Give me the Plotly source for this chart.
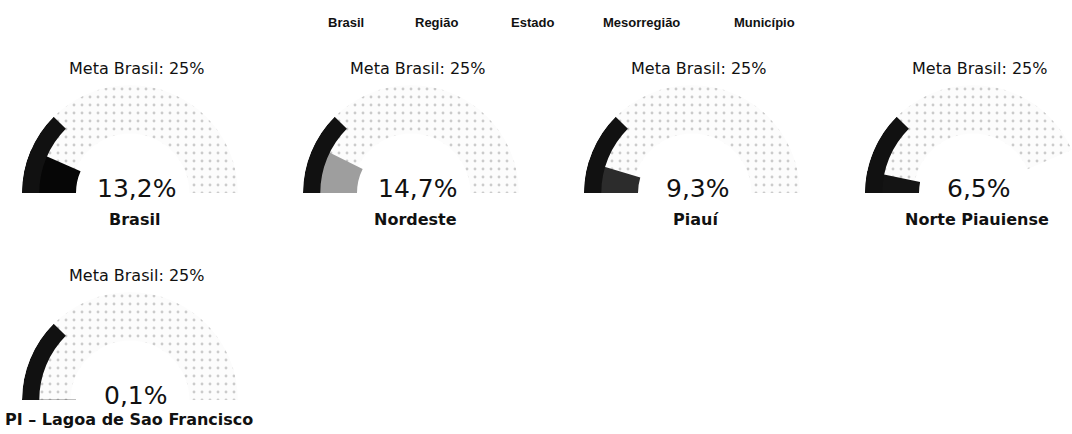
import math
import plotly.graph_objects as go

# ---------------- data ----------------
regions = ["Brasil", "Nordeste", "Piauí", "Norte Piauiense", "PI – Lagoa de Sao Francisco"]
values = [13.2, 14.7, 9.3, 6.5, 0.1]          # percent
meta_brasil = 25                              # percent
scale_max = 100                               # gauge range 0..100 %
menu_items = ["Brasil", "Região", "Estado", "Mesorregião", "Município"]

# ---------------- style / layout ----------------
W, H = 1072, 434
R = 108
centers = [(130, 193), (411, 193), (692, 193), (973, 193), (130, 400)]
label_dy = [26, 26, 26, 26, 19]
label_dx = [4, 4, 4, 4, -1]
wedge_colors = ["#060606", "#9e9e9e", "#2c2c2c", "#141414", "#060606"]
menu_x = [346, 436, 532, 641, 764]
FONT = "DejaVu Sans"


def to_deg(v):
    """gauge scale: 0..scale_max mapped onto the half circle (0..180 deg)"""
    return v / scale_max * 180.0


fig = go.Figure()
annotations = []
polars = {}

for i, (name, v, (cx, cy), col) in enumerate(zip(regions, values, centers, wedge_colors)):
    sub = "polar" if i == 0 else f"polar{i + 1}"
    # background arc (whole range)
    fig.add_trace(go.Barpolar(
        r=[0.45], base=[0.55], theta=[to_deg(scale_max) / 2], width=[to_deg(scale_max)],
        subplot=sub, showlegend=False, hoverinfo="skip",
        marker=dict(color="#fcfcfc", line=dict(width=0),
                    pattern=dict(shape=".", fgcolor="#9a9a9a", bgcolor="#fcfcfc",
                                 size=8, solidity=0.1)),
    ))
    # value wedge
    fig.add_trace(go.Barpolar(
        r=[0.5], base=[0.5], theta=[to_deg(v) / 2], width=[to_deg(v)],
        subplot=sub, showlegend=False, hoverinfo="skip",
        marker=dict(color=col, line=dict(width=0)),
    ))
    # meta band (outer ring 0..meta)
    fig.add_trace(go.Barpolar(
        r=[0.16], base=[0.84], theta=[to_deg(meta_brasil) / 2], width=[to_deg(meta_brasil)],
        subplot=sub, showlegend=False, hoverinfo="skip",
        marker=dict(color="#111111", line=dict(width=0)),
    ))

    right = min(cx + R, W)
    theta_c = math.degrees(math.acos((right - cx) / R))
    polars[sub] = dict(
        domain=dict(x=[(cx - R) / W, right / W], y=[1 - cy / H, 1 - (cy - R) / H]),
        sector=[theta_c, 180], hole=0, bgcolor="rgba(0,0,0,0)",
        radialaxis=dict(visible=False, range=[0, 1]),
        angularaxis=dict(visible=False, rotation=180, direction="clockwise"),
    )

    num_txt = f"{v:.1f}".replace(".", ",") + "%"
    annotations += [
        dict(text=f"Meta Brasil: {meta_brasil}%", x=(cx + 6) / W, y=1 - (cy - 125) / H,
             font=dict(family=FONT, size=16, color="#111")),
        dict(text=num_txt, x=(cx + 6) / W, y=1 - (cy - 5) / H,
             font=dict(family=FONT, size=25, color="#111")),
        dict(text=f"<b>{name}</b>", x=(cx + label_dx[i]) / W, y=1 - (cy + label_dy[i]) / H,
             font=dict(family=FONT, size=16, color="#111")),
    ]

for item, mx in zip(menu_items, menu_x):
    annotations.append(dict(text=f"<b>{item}</b>", x=mx / W, y=1 - 22 / H,
                            font=dict(family="Liberation Sans", size=13, color="#111")))

for a in annotations:
    a.update(xref="paper", yref="paper", xanchor="center", yanchor="middle", showarrow=False)

fig.update_layout(
    width=W, height=H, margin=dict(l=0, r=0, t=0, b=0),
    paper_bgcolor="white", plot_bgcolor="white",
    annotations=annotations, showlegend=False,
    **polars,
)

fig.write_html("out.html", config={"displayModeBar": False},
               post_script="document.body.style.margin='0px';document.body.style.overflow='hidden';")
